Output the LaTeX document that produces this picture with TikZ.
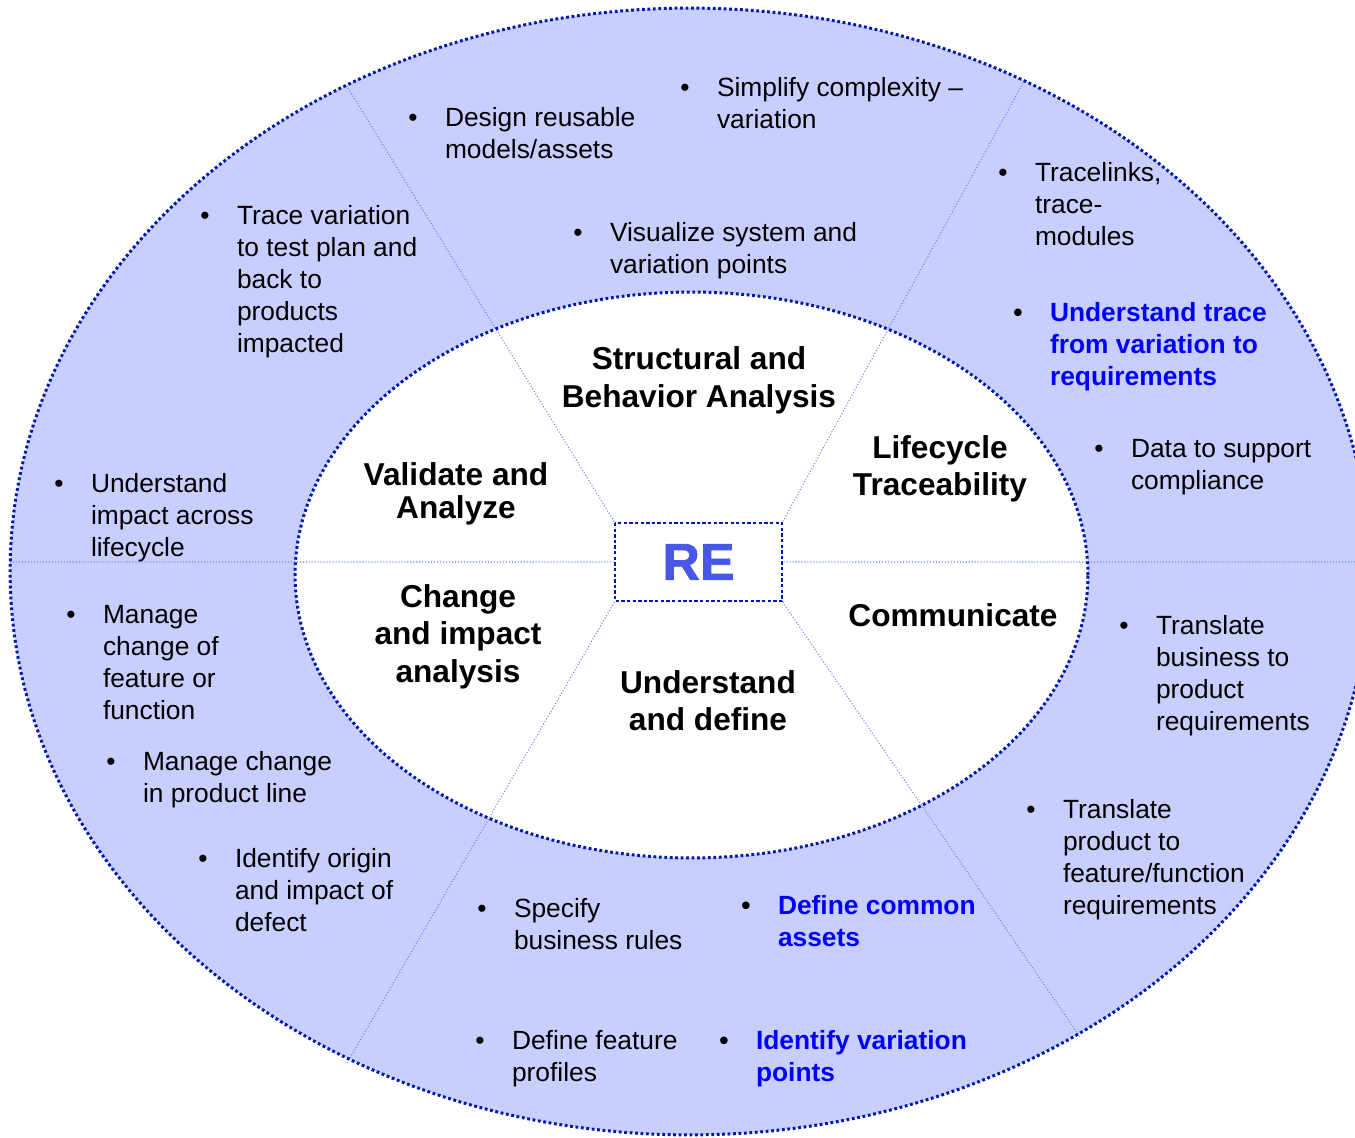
\documentclass[tikz,border=0pt]{standalone}
\usepackage{fontspec}
\setmainfont{Liberation Sans}
\newfontfamily\refont{Liberation Sans}[BoldFeatures={FakeBold=1.5}]
\usepackage{tikz}
\usetikzlibrary{positioning}

\definecolor{ringfill}{RGB}{200,207,255}
\definecolor{rimblue}{RGB}{0,24,176}
\definecolor{splitblue}{RGB}{110,130,255}
\definecolor{keyblue}{RGB}{0,0,255}
\definecolor{recore}{RGB}{72,88,230}

\newcommand{\bitem}[1]{\llap{\color{black}\textbullet\hspace{15.6pt}}\begin{tabular}[t]{@{}l@{}}#1\end{tabular}}
\newcommand{\areatitle}[1]{\begin{tabular}[t]{@{}c@{}}#1\end{tabular}}

\begin{document}
\begin{tikzpicture}[x=0.02cm,y=-0.02cm,
    every node/.style={inner sep=0pt, outer sep=0pt},
    bulletitem/.style={anchor=base west, font=\fontsize{15}{18.2}\selectfont},
    keyitem/.style={bulletitem, text=keyblue, font=\fontsize{15}{18.2}\selectfont\bfseries},
    sector/.style={anchor=base, font=\fontsize{18}{21.6}\selectfont\bfseries},
    rim/.style={draw=rimblue, line width=1.7pt, dash pattern=on 1.6pt off 1.5pt},
    split/.style={draw=splitblue, line width=0.6pt, dash pattern=on 0.6pt off 1.1pt}
    ]
    \path[use as bounding box, clip] (0,0) rectangle (1355,1138);

    % rings
    \fill[ringfill] (690,571.5) ellipse [x radius=13.6cm, y radius=11.27cm];
    \fill[white] (691.5,575) ellipse [x radius=7.93cm, y radius=5.66cm];

    \node[minimum width=3.34cm, minimum height=1.56cm] (re) at (698.5,562) {};

    % dividers, from the outer rim to the box
    \coordinate (tl) at (348,88);
    \coordinate (tr) at (1023,83);
    \coordinate (bl) at (347,1063);
    \coordinate (br) at (1080,1037);
    \coordinate (lft) at (10,562);
    \coordinate (rgt) at (1370,562);
    \path[split] (tl) -- (re.north west)
        (tr) -- (re.north east)
        (bl) -- (re.south west)
        (br) -- (re.south east)
        (lft) -- (re.west)
        (rgt) -- (re.east);

    \draw[rim] (690,571.5) ellipse [x radius=13.6cm, y radius=11.27cm];
    \draw[rim] (691.5,575) ellipse [x radius=7.93cm, y radius=5.66cm];
    \draw[draw=rimblue, line width=1.6pt, dash pattern=on 1.9pt off 1.3pt]
        (re.north west) rectangle (re.south east);
    \node[text=recore, font=\refont\bfseries\fontsize{29.5}{30}\selectfont] (retext) at (re.center) {RE};

    % sector titles
    \node[sector] (structural) at (699,370) {\areatitle{Structural and\\Behavior Analysis}};
    \node[sector] (lifecycle) at (940,458) {\areatitle{Lifecycle\\Traceability}};
    \node[sector] (validate) at (456,485) {\areatitle{Validate and\\[-2.3pt]Analyze}};
    \node[sector] (change) at (458,607) {\areatitle{Change\\and impact\\analysis}};
    \node[sector] (communicate) at (953,626) {\areatitle{Communicate}};
    \node[sector] (define) at (708,693) {\areatitle{Understand\\and define}};

    % outer ring items
    \node[bulletitem] (design) at (445,126.5) {\bitem{Design reusable\\models/assets}};
    \node[bulletitem] (simplify) at (717,96.5) {\bitem{Simplify complexity \textendash\\variation}};
    \node[bulletitem] (visualize) at (610,241.5) {\bitem{Visualize system and\\variation points}};
    \node[bulletitem] (tracetest) at (237,224.5) {\bitem{Trace variation\\to test plan and\\back to\\products\\impacted}};
    \node[bulletitem] (tracelinks) at (1035,181.5) {\bitem{Tracelinks,\\trace-\\modules}};
    \node[keyitem] (tracereq) at (1050,321.5) {\bitem{Understand trace\\from variation to\\requirements}};
    \node[bulletitem] (compliance) at (1131,457.5) {\bitem{Data to support\\compliance}};
    \node[bulletitem] (impact) at (91,492.5) {\bitem{Understand\\impact across\\lifecycle}};
    \node[bulletitem] (managefeat) at (103,623.5) {\bitem{Manage\\change of\\feature or\\function}};
    \node[bulletitem] (manageline) at (143,770.5) {\bitem{Manage change\\in product line}};
    \node[bulletitem] (defect) at (235,867.5) {\bitem{Identify origin\\and impact of\\defect}};
    \node[bulletitem] (rules) at (514,917.5) {\bitem{Specify\\business rules}};
    \node[keyitem] (assets) at (778,914.5) {\bitem{Define common\\assets}};
    \node[bulletitem] (profiles) at (512,1049.5) {\bitem{Define feature\\profiles}};
    \node[keyitem] (points) at (756,1049.5) {\bitem{Identify variation\\points}};
    \node[bulletitem] (business) at (1156,634.5) {\bitem{Translate\\business to\\product\\requirements}};
    \node[bulletitem] (product) at (1063,818.5) {\bitem{Translate\\product to\\feature/function\\requirements}};
\end{tikzpicture}
\end{document}
